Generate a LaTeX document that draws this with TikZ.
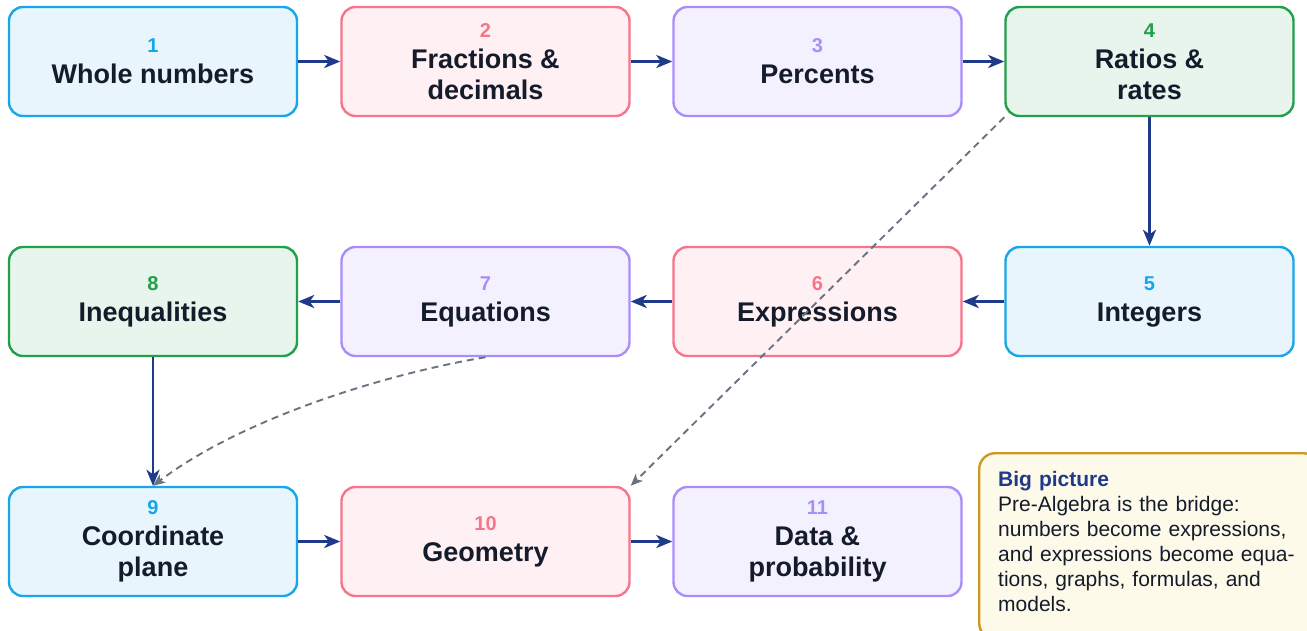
\documentclass[tikz,border=0pt]{standalone}
\usepackage{fontspec}
\setmainfont{Liberation Sans}
\usetikzlibrary{arrows.meta}
\definecolor{skyB}{HTML}{16A6EA}
\definecolor{skyF}{HTML}{E8F5FC}
\definecolor{roseB}{HTML}{F7758A}
\definecolor{roseF}{HTML}{FFF0F3}
\definecolor{vioB}{HTML}{A98EF9}
\definecolor{vioF}{HTML}{F4F1FF}
\definecolor{grnB}{HTML}{1FA04A}
\definecolor{grnF}{HTML}{E8F5EC}
\definecolor{ink}{HTML}{141B2B}
\definecolor{flow}{HTML}{1F3A8A}
\definecolor{dash}{HTML}{6B7280}
\definecolor{goldB}{HTML}{CC9A1E}
\definecolor{goldF}{HTML}{FEFAEA}
\tikzset{
  stepbox/.style={draw, line width=2.4pt, rounded corners=14pt, minimum width=288pt,
    minimum height=109pt, align=center, inner sep=0pt, text=ink,
    font=\fontsize{27}{31}\selectfont\bfseries},
  bluebox/.style={stepbox, draw=skyB, fill=skyF},
  rosebox/.style={stepbox, draw=roseB, fill=roseF},
  viobox/.style={stepbox, draw=vioB, fill=vioF},
  grnbox/.style={stepbox, draw=grnB, fill=grnF},
  flowarrow/.style={draw=flow, line width=2.9pt, -{Stealth[length=16pt,width=13pt,inset=4.5pt]}},
  linkarrow/.style={draw=dash, line width=1.9pt, dash pattern=on 7pt off 5pt,
    -{Stealth[length=12pt,width=10pt,inset=3pt]}},
}
\newcommand{\numl}[2]{{\color{#1}\fontsize{20}{24}\selectfont\bfseries #2}}
\begin{document}
\begin{tikzpicture}[x=1pt,y=-1pt]
\useasboundingbox (0,0) rectangle (1307,630);
% row 1
\node[bluebox] (n1) at (153,61.5) {\numl{skyB}{1}\\[0pt]Whole numbers};
\node[rosebox] (n2) at (485.5,61.5) {\numl{roseB}{2}\\[0pt]Fractions \&\\decimals};
\node[viobox] (n3) at (817.5,61.5) {\numl{vioB}{3}\\[0pt]Percents};
\node[grnbox] (n4) at (1149.5,61.5) {\numl{grnB}{4}\\[0pt]Ratios \&\\rates};
% row 2
\node[bluebox] (n5) at (1149.5,301.5) {\numl{skyB}{5}\\[0pt]Integers};
\node[rosebox] (n6) at (817.5,301.5) {\numl{roseB}{6}\\[0pt]Expressions};
\node[viobox] (n7) at (485.5,301.5) {\numl{vioB}{7}\\[0pt]Equations};
\node[grnbox] (n8) at (153,301.5) {\numl{grnB}{8}\\[0pt]Inequalities};
% row 3
\node[bluebox] (n9) at (153,541.5) {\numl{skyB}{9}\\[0pt]Coordinate\\plane};
\node[rosebox] (n10) at (485.5,541.5) {\numl{roseB}{10}\\[0pt]Geometry};
\node[viobox] (n11) at (817.5,541.5) {\numl{vioB}{11}\\[0pt]Data \&\\probability};
% flow arrows
\draw[flowarrow] (n1) -- (n2);
\draw[flowarrow] (n2) -- (n3);
\draw[flowarrow] (n3) -- (n4);
\draw[flowarrow] (n4) -- (n5);
\draw[flowarrow] (n5) -- (n6);
\draw[flowarrow] (n6) -- (n7);
\draw[flowarrow] (n7) -- (n8);
\draw[flowarrow] (n8) -- (n9);
\draw[flowarrow] (n9) -- (n10);
\draw[flowarrow] (n10) -- (n11);
% dashed links
\draw[linkarrow] (n4.south west) -- (n10.north east);
\draw[linkarrow] (n7.south) .. controls (380,375) and (240,420) .. (n9.north);
% note
\node[draw=goldB, fill=goldF, line width=2.4pt, rounded corners=16pt, minimum width=340pt,
  minimum height=186pt, anchor=north west, inner sep=0pt] (note) at (978,452) {};
\node[anchor=base west, text width=300pt, inner sep=0pt, align=left, text=ink,
  font=\fontsize{21}{25}\selectfont] (notetext) at (998,486.5)
  {{\color{flow}\bfseries Big picture}\\
   Pre-Algebra is the bridge:\\
   numbers become expressions,\\
   and expressions become equa-\\
   tions, graphs, formulas, and\\
   models.};
\end{tikzpicture}
\end{document}
